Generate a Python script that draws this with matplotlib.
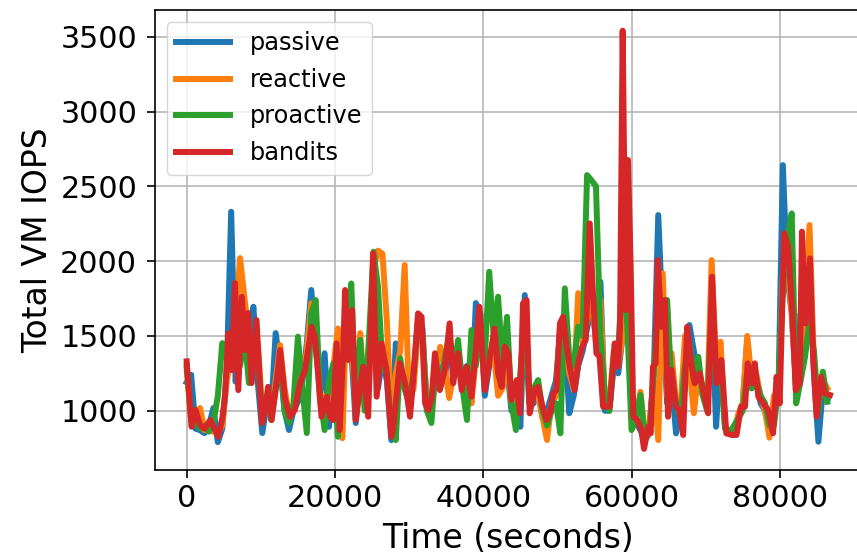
import numpy as np
import matplotlib
matplotlib.use("Agg")
import matplotlib.pyplot as plt

# bandits series (seconds, IOPS)
red_t = [0, 660, 1200, 1800, 2400, 3180, 3720, 4260, 4800, 5160,
         5610, 6060, 6510, 6960, 7440, 7860, 8280, 8760, 9420, 10140,
         10560, 10980, 11460, 12120, 12600, 13260, 13920, 14580, 15300, 15960,
         16860, 17280, 17760, 18180, 18900, 19320, 19740, 20220, 20640, 21120,
         21360, 21780, 22320, 22800, 23340, 23820, 24480, 25140, 25620, 26280,
         26940, 27600, 27840, 28740, 29460, 30120, 30540, 31200, 31680, 32160,
         32580, 33060, 33480, 34140, 34800, 35460, 35940, 36600, 37080, 37740,
         38400, 38880, 39480, 40200, 40920, 41520, 42000, 42480, 42900, 43380,
         43800, 44520, 44940, 45360, 45840, 46260, 46920, 47400, 47880, 48540,
         49020, 49440, 49860, 50340, 50760, 51240, 51660, 52320, 52800, 53340,
         53820, 54360, 54840, 55260, 55680, 56160, 57060, 57720, 58200, 58440,
         58800, 59220, 59520, 59880, 60240, 60780, 61320, 61680, 62220, 62580,
         62880, 63240, 63540, 64020, 64500, 64920, 65400, 66000, 66420, 66960,
         67500, 67980, 68520, 69180, 69840, 70320, 70860, 71460, 72120, 72780,
         73500, 74160, 74760, 75300, 75660, 76200, 76620, 77100, 77760, 78420,
         79080, 79560, 79980, 80580, 81120, 81660, 82140, 82680, 82980, 83460,
         84060, 84480, 84960, 85560, 86100, 86760]
bandits = [1330, 893, 1005, 904, 880, 938, 880, 826, 950, 1094,
           1517, 1272, 1853, 1138, 1762, 1406, 1653, 1185, 1606, 918,
           1000, 1160, 938, 1185, 1406, 1080, 960, 1005, 1185, 1272,
           1561, 1495, 1227, 960, 1094, 960, 938, 1450, 871, 1406,
           1807, 1339, 1673, 938, 1138, 1294, 960, 2052, 1094, 1450,
           1272, 826, 871, 1317, 1185, 960, 1205, 1651, 1628, 1049,
           1005, 1094, 1384, 1138, 1272, 1584, 1183, 1384, 1138, 1294,
           1094, 1339, 1695, 1138, 1361, 1550, 1250, 1160, 1428, 1384,
           1072, 1205, 983, 1718, 1740, 983, 1138, 1160, 1049, 938,
           983, 1116, 1138, 1584, 1628, 1428, 1294, 1138, 1317, 1428,
           1473, 2252, 1740, 1384, 1362, 1027, 1027, 1450, 1294, 1561,
           3540, 1673, 2676, 1962, 960, 938, 871, 745, 893, 849,
           1294, 1317, 2007, 1561, 1740, 960, 1272, 1027, 1005, 838,
           1561, 1339, 1183, 1250, 1100, 983, 1896, 1183, 1339, 849,
           838, 838, 1027, 1027, 1317, 1183, 1317, 1094, 1049, 1005,
           849, 1227, 1049, 2186, 2096, 1673, 1138, 1183, 2197, 1584,
           2019, 1361, 960, 1227, 1116, 1105]

# other policies, sampled every 600 s
t = np.arange(145) * 600

passive = [1190, 1240, 880, 870, 850, 900, 1018, 790, 880, 1250,
           2330, 1194, 1500, 1400, 1550, 1695, 1185, 851, 1050, 1000,
           1519, 1300, 1000, 871, 1000, 1060, 1200, 1450, 1807, 1450,
           1100, 1384, 893, 1300, 1000, 1450, 1700, 1400, 918, 1250,
           1100, 1350, 1900, 1150, 1350, 1200, 804, 1450, 1250, 1150,
           1050, 1200, 1600, 1550, 1000, 1050, 1350, 1250, 1200, 1500,
           1300, 1420, 1200, 1300, 1050, 1720, 1650, 1100, 1300, 1500,
           1200, 1250, 1300, 1000, 1150, 893, 1773, 1100, 1050, 1150,
           950, 1000, 1100, 1200, 1550, 1480, 983, 1100, 1300, 1400,
           1550, 1700, 1500, 1862, 1000, 1000, 1300, 1250, 1500, 1800,
           950, 920, 870, 800, 880, 1250, 2308, 1600, 1050, 1200,
           849, 1000, 1150, 1573, 1400, 1200, 1150, 1000, 1750, 893,
           1400, 900, 850, 860, 950, 1050, 1473, 1150, 1200, 1050,
           1000, 870, 1050, 1100, 2642, 1900, 1650, 1150, 1650, 1500,
           1950, 1250, 793, 1150, 1080]

reactive = [1280, 930, 980, 1018, 870, 880, 860, 850, 900, 1200,
            1350, 1600, 2020, 1750, 1500, 1350, 1450, 1000, 1080, 980,
            1200, 1439, 1150, 980, 1000, 1150, 1250, 1400, 1718, 1550,
            1050, 1100, 1000, 1300, 1550, 817, 1750, 1450, 1050, 1519,
            1100, 1200, 1950, 2070, 2050, 1600, 900, 1250, 1400, 1974,
            1050, 1150, 1550, 1500, 1050, 1000, 1250, 1428, 1300, 1085,
            1250, 1380, 1150, 1250, 1050, 1350, 1500, 1200, 1350, 1400,
            1100, 1150, 1350, 1050, 1150, 1200, 1700, 1050, 1150, 1100,
            950, 804, 1050, 1100, 1580, 1450, 1250, 1150, 1786, 1450,
            1600, 1800, 1450, 1740, 1050, 1050, 1400, 1300, 1500, 1900,
            1000, 950, 1127, 850, 900, 1200, 804, 1918, 1100, 1384,
            1050, 1000, 1500, 1300, 983, 1250, 1100, 1050, 2007, 1300,
            1461, 900, 850, 850, 980, 1050, 1500, 1200, 1250, 1100,
            1000, 820, 1100, 1050, 1900, 2000, 1650, 1150, 1300, 1700,
            2241, 1300, 1100, 1200, 1150]

proactive = [1300, 950, 930, 880, 900, 860, 920, 1100, 1452, 1400,
             1350, 1600, 1300, 1500, 1185, 1400, 1350, 950, 1100, 938,
             1150, 1350, 1000, 920, 1050, 1495, 1150, 851, 1650, 1740,
             1100, 871, 1200, 1317, 826, 1300, 1600, 1851, 1000, 1473,
             1000, 1500, 2063, 1829, 1300, 1250, 900, 804, 1350, 1150,
             1050, 1250, 1600, 1500, 1000, 918, 1300, 1160, 1350, 1500,
             1250, 1473, 1150, 938, 1539, 1300, 1550, 1350, 1929, 1500,
             1762, 1300, 1628, 1050, 871, 1250, 1650, 1050, 1150, 1205,
             1000, 900, 1000, 1050, 849, 1818, 1350, 1300, 1561, 1500,
             2575, 2540, 2500, 1500, 1100, 1000, 1350, 1400, 1940, 1600,
             871, 950, 1105, 800, 850, 1250, 1700, 1600, 1740, 1150,
             1050, 950, 1300, 1450, 1200, 1361, 1100, 1000, 1700, 1200,
             1300, 880, 850, 900, 950, 1000, 1250, 1150, 1200, 1100,
             1050, 900, 900, 1150, 1800, 2150, 2319, 1049, 1200, 1361,
             1600, 1400, 1000, 1261, 1060]

fig = plt.figure(figsize=(8.57, 5.55), dpi=100)
ax = fig.add_axes([0.1803, 0.1535, 0.8257, 0.8288])

lw = 4.3
ax.plot(t, passive, lw=lw, label="passive")
ax.plot(t, reactive, lw=lw, label="reactive")
ax.plot(t, proactive, lw=lw, label="proactive")
ax.plot(red_t, bandits, lw=lw, label="bandits")

ax.set_xticks([0, 20000, 40000, 60000, 80000])
ax.set_yticks([1000, 1500, 2000, 2500, 3000, 3500])
ax.grid(True, color="#b0b0b0", linewidth=1.1)
ax.tick_params(axis="both", labelsize=21.7, length=6, width=1.2)
ax.tick_params(axis="x", pad=4.5)
ax.tick_params(axis="y", pad=6.5)
for s in ax.spines.values():
    s.set_linewidth(1.2)

ax.set_xlabel("Time (seconds)", fontsize=23.8, labelpad=6)
ax.set_ylabel("Total VM IOPS", fontsize=23.8)
ax.legend(loc="upper left", fontsize=17.3, labelspacing=0.52, handlelength=2.25)

fig.savefig("out.png", dpi=100)
